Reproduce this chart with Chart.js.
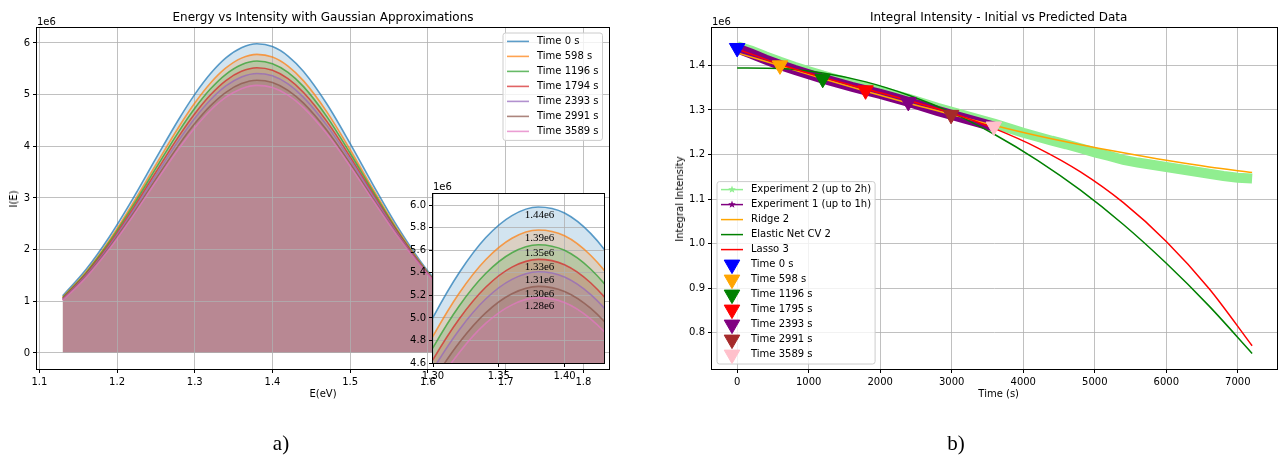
<!DOCTYPE html>
<html>
<head>
<meta charset="utf-8">
<script src="https://cdn.jsdelivr.net/npm/chart.js@4.4.1/dist/chart.umd.min.js"></script>
<style>
  body { margin: 0; background: #fff; }
  #page { position: relative; width: 1287px; height: 457px; overflow: hidden; font-family: "DejaVu Sans", sans-serif; color: #000; }
  canvas { position: absolute; }
  .txt { position: absolute; white-space: nowrap; font-size: 10px; line-height: 1; z-index: 5; }
  .serif { font-family: "Liberation Serif", serif; }
  #insetBg { position: absolute; background: #fff; z-index: 2; }
</style>
</head>
<body>
<div id="page">
  <canvas id="spectraChart" width="640" height="457" style="left:0;top:0;z-index:1"></canvas>
  <div id="insetBg"></div>
  <canvas id="insetChart" width="214" height="214" style="left:398px;top:178px;z-index:3"></canvas>
  <canvas id="integralChart" width="647" height="457" style="left:640px;top:0;z-index:1"></canvas>
</div>
<script>
// ---- panel a) : spectra (values in units of 1e6)
const energyEv = [1.13, 1.16, 1.19, 1.22, 1.25, 1.28, 1.30, 1.32, 1.34, 1.36, 1.38, 1.40, 1.42, 1.44, 1.47, 1.50, 1.53, 1.56, 1.60, 1.64, 1.68, 1.72, 1.76, 1.80];
const intensity0s    = [1.105, 1.614, 2.246, 2.978, 3.765, 4.538, 5.005, 5.403, 5.711, 5.908, 5.984, 5.931, 5.748, 5.447, 4.818, 4.052, 3.240, 2.464, 1.581, 0.927, 0.497, 0.244, 0.109, 0.045];
const intensity598s  = [1.077, 1.569, 2.180, 2.887, 3.645, 4.389, 4.838, 5.221, 5.516, 5.707, 5.780, 5.729, 5.554, 5.267, 4.667, 3.934, 3.156, 2.409, 1.555, 0.919, 0.497, 0.246, 0.112, 0.046];
const intensity1196s = [1.067, 1.550, 2.147, 2.837, 3.577, 4.300, 4.736, 5.108, 5.394, 5.579, 5.650, 5.600, 5.432, 5.155, 4.575, 3.866, 3.111, 2.383, 1.548, 0.921, 0.502, 0.251, 0.115, 0.048];
const intensity1794s = [1.052, 1.525, 2.109, 2.782, 3.502, 4.207, 4.631, 4.993, 5.272, 5.451, 5.520, 5.472, 5.310, 5.043, 4.483, 3.797, 3.064, 2.355, 1.538, 0.922, 0.507, 0.256, 0.119, 0.050];
const intensity2393s = [1.039, 1.504, 2.077, 2.736, 3.441, 4.129, 4.543, 4.896, 5.168, 5.342, 5.410, 5.364, 5.207, 4.948, 4.405, 3.739, 3.026, 2.334, 1.534, 0.926, 0.513, 0.261, 0.122, 0.053];
const intensity2991s = [1.027, 1.482, 2.042, 2.684, 3.370, 4.038, 4.440, 4.782, 5.045, 5.214, 5.280, 5.235, 5.084, 4.835, 4.311, 3.667, 2.976, 2.304, 1.522, 0.924, 0.516, 0.266, 0.125, 0.054];
const intensity3589s = [1.017, 1.464, 2.013, 2.643, 3.314, 3.967, 4.360, 4.694, 4.951, 5.116, 5.180, 5.137, 4.990, 4.749, 4.241, 3.615, 2.941, 2.284, 1.517, 0.928, 0.522, 0.271, 0.129, 0.057];
const spectrumLabels = ['Time 0 s', 'Time 598 s', 'Time 1196 s', 'Time 1794 s', 'Time 2393 s', 'Time 2991 s', 'Time 3589 s'];
const integralLabels = ['1.44e6', '1.39e6', '1.35e6', '1.33e6', '1.31e6', '1.30e6', '1.28e6'];

// ---- panel b) : integral intensity (units of 1e6)
const exp2Time = [0, 200, 400, 600, 800, 1000, 1200, 1400, 1600, 1800, 2000, 2200, 2400, 2600, 2800, 3000, 3200, 3400, 3600, 3800, 4000, 4200, 4400, 4600, 4800, 5000, 5200, 5400, 5600, 5800, 6000, 6200, 6400, 6600, 6800, 7000, 7200];
const exp2Intensity = [1.443, 1.433, 1.420, 1.408, 1.397, 1.387, 1.377, 1.368, 1.359, 1.351, 1.343, 1.334, 1.325, 1.315, 1.305, 1.296, 1.287, 1.278, 1.269, 1.259, 1.249, 1.240, 1.231, 1.223, 1.214, 1.205, 1.197, 1.188, 1.182, 1.177, 1.172, 1.167, 1.162, 1.157, 1.152, 1.148, 1.146];
const exp1Time = [0, 200, 400, 600, 800, 1000, 1200, 1400, 1600, 1800, 2000, 2200, 2400, 2600, 2800, 3000, 3200, 3400, 3600];
const exp1Intensity = [1.438, 1.426, 1.413, 1.401, 1.390, 1.380, 1.370, 1.361, 1.352, 1.344, 1.336, 1.327, 1.318, 1.308, 1.298, 1.289, 1.280, 1.271, 1.262];
const modelTime = [0, 600, 1200, 1800, 2400, 3000, 3600, 4200, 4800, 5400, 6000, 6600, 7200];
const ridge2 = [1.428, 1.399, 1.370, 1.342, 1.315, 1.290, 1.265, 1.242, 1.222, 1.204, 1.187, 1.172, 1.160];
const elasticNetCv2 = [1.394, 1.393, 1.383, 1.363, 1.333, 1.294, 1.245, 1.187, 1.120, 1.043, 0.956, 0.860, 0.754];
const lasso3 = [1.437, 1.402, 1.373, 1.347, 1.321, 1.293, 1.258, 1.215, 1.161, 1.092, 1.005, 0.899, 0.771];
const markerTime = [0, 598, 1196, 1795, 2393, 2991, 3589];
const markerIntensity = [1.439, 1.400, 1.370, 1.344, 1.318, 1.289, 1.263];
const markerLabels = ['Time 0 s', 'Time 598 s', 'Time 1196 s', 'Time 1795 s', 'Time 2393 s', 'Time 2991 s', 'Time 3589 s'];
const markerColors = ['#0000ff', '#ffa500', '#008000', '#ff0000', '#800080', '#a52a2a', '#ffc0cb'];

Chart.defaults.font.family = '"DejaVu Sans", sans-serif';
Chart.defaults.font.size = 10;
Chart.defaults.color = '#000';

const tab10 = ['31,119,180', '255,127,14', '44,160,44', '214,39,40', '148,103,189', '140,86,75', '227,119,194'];
const spectra = [intensity0s, intensity598s, intensity1196s, intensity1794s, intensity2393s, intensity2991s, intensity3589s];
const lineAlpha = 0.72;

const gridStyle = { color: '#b0b0b0', lineWidth: 0.8, tickColor: '#000', tickLength: 4, tickWidth: 1 };

// matplotlib-like ticks: every multiple of step inside [min, max]
const makeAxis = (min, max, step, digits, fit) => ({
  type: 'linear', min, max,
  grid: gridStyle,
  border: { display: false },
  ticks: { autoSkip: false, maxRotation: 0, padding: 3, color: '#000', callback: v => v.toFixed(digits) },
  afterBuildTicks: s => {
    const ticks = [];
    for (let k = Math.ceil(min / step - 1e-9); k * step <= max + 1e-9; k++) ticks.push({ value: +(k * step).toFixed(6) });
    s.ticks = ticks;
  },
  afterFit: fit
});

const spectrumDatasets = () => spectra.map((vals, i) => ({
  label: spectrumLabels[i],
  data: energyEv.map((e, j) => ({ x: e, y: vals[j] })),
  borderColor: `rgba(${tab10[i]},${lineAlpha})`,
  backgroundColor: `rgba(${tab10[i]},0.2)`,
  borderWidth: 1.6,
  pointRadius: 0,
  fill: 'origin',
  cubicInterpolationMode: 'monotone',
  order: spectra.length - i
}));

// black box round the plot area
const frame = {
  id: 'frame',
  afterDatasetsDraw(chart) {
    const { ctx, chartArea: a } = chart;
    ctx.save();
    ctx.strokeStyle = '#000';
    ctx.lineWidth = 1;
    const l = Math.round(a.left) - 0.5, t = Math.round(a.top) - 0.5;
    ctx.strokeRect(l, t, Math.round(a.right) - Math.round(a.left) + 1, Math.round(a.bottom) - Math.round(a.top) + 1);
    ctx.restore();
  }
};

const legendBox = (ctx, x, y, w, h) => {
  ctx.beginPath();
  ctx.roundRect(x, y, w, h, 2.5);
  ctx.fillStyle = 'rgba(255,255,255,0.8)';
  ctx.fill();
  ctx.strokeStyle = '#cccccc';
  ctx.lineWidth = 1;
  ctx.stroke();
};

const drawStar = (ctx, x, y, r, color) => {
  ctx.beginPath();
  for (let k = 0; k < 10; k++) {
    const rr = k % 2 ? r * 0.42 : r;
    const ang = -Math.PI / 2 + k * Math.PI / 5;
    ctx.lineTo(x + rr * Math.cos(ang), y + rr * Math.sin(ang));
  }
  ctx.closePath();
  ctx.fillStyle = color;
  ctx.fill();
};

const spectraLegend = {
  id: 'spectraLegend',
  afterDraw(chart) {
    const { ctx, chartArea } = chart;
    ctx.save();
    ctx.font = '10px "DejaVu Sans"';
    const textW = Math.max(...spectrumLabels.map(t => ctx.measureText(t).width));
    const w = 4 + 22 + 8 + textW + 4;
    const h = 15 * spectrumLabels.length + 2.4;
    const x0 = chartArea.right - 6.5 - w, y0 = chartArea.top + 5;
    legendBox(ctx, x0, y0, w, h);
    spectrumLabels.forEach((lab, i) => {
      const y = y0 + 8.4 + 15 * i;
      ctx.strokeStyle = `rgba(${tab10[i]},${lineAlpha})`;
      ctx.lineWidth = 1.6;
      ctx.beginPath();
      ctx.moveTo(x0 + 4, y);
      ctx.lineTo(x0 + 26, y);
      ctx.stroke();
      ctx.fillStyle = '#000';
      ctx.textBaseline = 'middle';
      ctx.fillText(lab, x0 + 34, y);
    });
    ctx.restore();
  }
};

const spectraChart = new Chart(document.getElementById('spectraChart'), {
  type: 'line',
  data: { datasets: spectrumDatasets() },
  options: {
    responsive: false, animation: false, events: [],
    layout: { padding: { left: 0, right: 31, top: 28, bottom: 0 } },
    plugins: { legend: { display: false }, tooltip: { enabled: false }, filler: { propagate: false, drawTime: 'beforeDraw' } },
    scales: {
      x: makeAxis(1.097, 1.833, 0.1, 1, s => { s.height = 88; }),
      y: makeAxis(-0.31, 6.29, 1, 0, s => { s.width = 37; })
    }
  },
  plugins: [frame, spectraLegend]
});

// integral values written under each peak in the zoomed view
const peakNotes = {
  id: 'peakNotes',
  afterDatasetsDraw(chart) {
    const { ctx, scales } = chart;
    ctx.save();
    ctx.font = '11px "Liberation Serif"';
    ctx.fillStyle = '#000';
    ctx.textAlign = 'center';
    ctx.textBaseline = 'middle';
    spectra.forEach((vals, i) => {
      const peak = Math.max(...vals);
      ctx.fillText(integralLabels[i], scales.x.getPixelForValue(1.381), scales.y.getPixelForValue(peak) + 8);
    });
    ctx.restore();
  }
};

const insetChart = new Chart(document.getElementById('insetChart'), {
  type: 'line',
  data: { datasets: spectrumDatasets() },
  options: {
    responsive: false, animation: false, events: [],
    layout: { padding: { left: 0, right: 8, top: 16, bottom: 0 } },
    plugins: { legend: { display: false }, tooltip: { enabled: false }, filler: { propagate: false, drawTime: 'beforeDraw' } },
    scales: {
      x: makeAxis(1.30, 1.43, 0.05, 2, s => { s.height = 29; }),
      y: makeAxis(4.6, 6.1, 0.2, 1, s => { s.width = 35; })
    }
  },
  plugins: [frame, peakNotes]
});

const ia = insetChart.chartArea;
const bg = document.getElementById('insetBg');
bg.style.left = (398 + ia.left) + 'px';
bg.style.top = (178 + ia.top) + 'px';
bg.style.width = (ia.right - ia.left) + 'px';
bg.style.height = (ia.bottom - ia.top) + 'px';

// ---- panel b)
const pts = (xs, ys) => xs.map((x, i) => ({ x, y: ys[i] }));

const integralLegend = {
  id: 'integralLegend',
  afterDraw(chart) {
    const { ctx, chartArea } = chart;
    const entries = [
      { label: 'Experiment 2 (up to 2h)', kind: 'star', color: '#90ee90' },
      { label: 'Experiment 1 (up to 1h)', kind: 'star', color: '#800080' },
      { label: 'Ridge 2', kind: 'line', color: '#ffa500' },
      { label: 'Elastic Net CV 2', kind: 'line', color: '#008000' },
      { label: 'Lasso 3', kind: 'line', color: '#ff0000' },
      ...markerLabels.map((label, i) => ({ label, kind: 'tri', color: markerColors[i] }))
    ];
    ctx.save();
    ctx.font = '10px "DejaVu Sans"';
    const textW = Math.max(...entries.map(e => ctx.measureText(e.label).width));
    const w = 4 + 22 + 8 + textW + 4;
    const h = 15 * entries.length + 2.4;
    const x0 = chartArea.left + 5, y0 = chartArea.bottom - 5 - h;
    legendBox(ctx, x0, y0, w, h);
    entries.forEach((e, i) => {
      const y = y0 + 8 + 15 * i;
      const cx = x0 + 15;
      if (e.kind !== 'tri') {
        ctx.strokeStyle = e.color;
        ctx.lineWidth = 1.5;
        ctx.beginPath();
        ctx.moveTo(x0 + 4, y);
        ctx.lineTo(x0 + 26, y);
        ctx.stroke();
        if (e.kind === 'star') drawStar(ctx, cx, y, 4, e.color);
      } else {
        ctx.fillStyle = e.color;
        ctx.strokeStyle = e.color;
        ctx.lineWidth = 1;
        Chart.helpers.drawPoint(ctx, { pointStyle: 'triangle', rotation: 180, radius: 9, borderWidth: 1 }, cx, y);
      }
      ctx.fillStyle = '#000';
      ctx.textBaseline = 'middle';
      ctx.fillText(e.label, x0 + 34, y);
    });
    ctx.restore();
  }
};

const lineSet = (data, color, width, order, extra) => Object.assign({
  data, borderColor: color, backgroundColor: color, borderWidth: width,
  pointRadius: 0, tension: 0, fill: false, order
}, extra || {});

const integralDatasets = [
  lineSet(pts(exp2Time, exp2Intensity), '#90ee90', 10, 20),
  lineSet(pts(exp1Time, exp1Intensity), '#800080', 10, 19),
  lineSet(pts(modelTime, ridge2), '#ffa500', 1.5, 18, { cubicInterpolationMode: 'monotone' }),
  lineSet(pts(modelTime, elasticNetCv2), '#008000', 1.5, 17, { cubicInterpolationMode: 'monotone' }),
  lineSet(pts(modelTime, lasso3), '#ff0000', 1.5, 16, { cubicInterpolationMode: 'monotone' }),
  ...markerTime.map((t, i) => ({
    data: [{ x: t, y: markerIntensity[i] }],
    showLine: false,
    pointStyle: 'triangle', pointRotation: 180, pointRadius: 9,
    backgroundColor: markerColors[i], borderColor: markerColors[i], pointBorderWidth: 1,
    order: 8 - i
  }))
];

const integralChart = new Chart(document.getElementById('integralChart'), {
  type: 'line',
  data: { datasets: integralDatasets },
  options: {
    responsive: false, animation: false, events: [],
    layout: { padding: { left: 0, right: 2, top: 28, bottom: 0 } },
    plugins: { legend: { display: false }, tooltip: { enabled: false } },
    scales: {
      x: makeAxis(-352, 7548, 1000, 0, s => { s.height = 88; }),
      y: makeAxis(0.719, 1.4838, 0.1, 1, s => { s.width = 72; })
    }
  },
  plugins: [frame, integralLegend]
});

// ---- plain text round the plots
const page = document.getElementById('page');
const addText = (text, x, y, opts = {}) => {
  const d = document.createElement('div');
  d.className = 'txt' + (opts.serif ? ' serif' : '');
  d.textContent = text;
  d.style.left = x + 'px';
  d.style.top = y + 'px';
  if (opts.size) d.style.fontSize = opts.size + 'px';
  let tf = opts.left ? 'translate(0,-50%)' : 'translate(-50%,-50%)';
  if (opts.rotate) tf += ' rotate(-90deg)';
  d.style.transform = tf;
  page.appendChild(d);
};

addText('Energy vs Intensity with Gaussian Approximations', 323, 17, { size: 12 });
addText('Integral Intensity - Initial vs Predicted Data', 998.7, 17, { size: 12 });
addText('1e6', 37, 22.3, { left: true });
addText('1e6', 712, 22.3, { left: true });
addText('1e6', 433, 186.7, { left: true });
addText('E(eV)', 323, 394);
addText('Time (s)', 998.7, 394);
addText('I(E)', 14, 198.8, { rotate: true });
addText('Integral Intensity', 680, 198.8, { rotate: true });
addText('a)', 281, 443, { serif: true, size: 21 });
addText('b)', 956, 443, { serif: true, size: 21 });
</script>
</body>
</html>
